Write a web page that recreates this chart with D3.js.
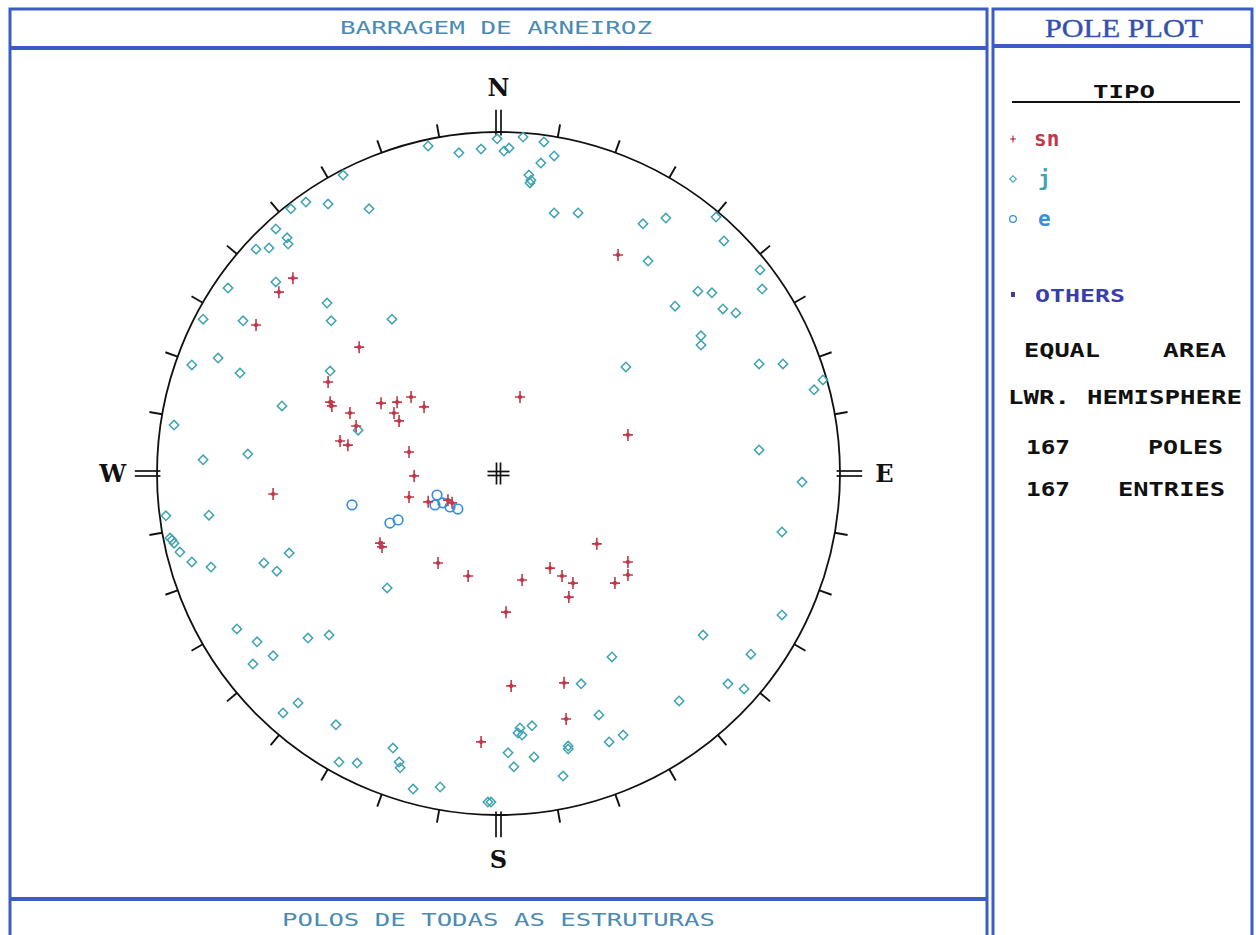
<!DOCTYPE html>
<html>
<head>
<meta charset="utf-8">
<script src="https://cdn.jsdelivr.net/npm/d3@7"></script>
<style>
  body { margin: 0; background: #fff; }
  svg { display: block; }
</style>
</head>
<body>
<script>
let snPoles = [
  [-0.602, 0.572], [-0.643, 0.531], [-0.710, 0.435], [-0.408, 0.370], [0.350, 0.640],
  [-0.499, 0.268], [-0.493, 0.209], [-0.488, 0.198], [-0.435, 0.177], [-0.417, 0.139],
  [-0.344, 0.206], [-0.464, 0.095], [-0.441, 0.083], [-0.660, -0.060], [-0.347, -0.204],
  [-0.341, -0.215], [-0.297, 0.209], [-0.256, 0.224], [-0.218, 0.195], [-0.306, 0.177],
  [-0.291, 0.154], [0.063, 0.224], [-0.262, 0.063], [-0.247, -0.007], [-0.262, -0.069],
  [-0.206, -0.083], [-0.148, -0.078], [-0.136, -0.086], [-0.177, -0.262], [-0.089, -0.300],
  [0.069, -0.312], [0.151, -0.277], [0.186, -0.300], [0.218, -0.321], [0.288, -0.206],
  [0.341, -0.321], [0.379, 0.113], [0.379, -0.259], [0.379, -0.297], [0.206, -0.362],
  [0.022, -0.406], [0.037, -0.622], [0.192, -0.613], [0.198, -0.719], [-0.051, -0.786]
];

let jPoles = [
  [-0.455, 0.874], [-0.564, 0.795], [-0.499, 0.789], [-0.379, 0.775], [-0.608, 0.775],
  [-0.652, 0.716], [-0.619, 0.690], [-0.616, 0.672], [-0.710, 0.657], [-0.672, 0.660],
  [-0.652, 0.561], [-0.792, 0.543], [-0.502, 0.499], [-0.865, 0.452], [-0.748, 0.447],
  [-0.490, 0.447], [-0.821, 0.338], [-0.312, 0.452], [-0.206, 0.959], [-0.116, 0.939],
  [-0.051, 0.950], [-0.004, 0.980], [0.016, 0.944], [0.031, 0.953], [0.072, 0.985],
  [0.133, 0.971], [0.163, 0.930], [0.124, 0.909], [0.089, 0.874], [0.092, 0.851],
  [0.163, 0.763], [0.233, 0.763], [0.423, 0.731], [0.490, 0.748], [0.637, 0.751],
  [0.660, 0.681], [0.438, 0.622], [0.766, 0.596], [0.772, 0.540], [0.584, 0.534],
  [0.625, 0.529], [0.517, 0.490], [0.657, 0.482], [0.695, 0.470], [0.593, 0.403],
  [0.593, 0.376], [0.373, 0.312], [0.763, 0.321], [0.833, 0.321], [0.950, 0.274],
  [0.924, 0.245], [0.763, 0.069], [0.889, -0.025], [0.830, -0.171], [-0.898, 0.318],
  [-0.757, 0.294], [-0.493, 0.300], [-0.634, 0.198], [-0.950, 0.142], [-0.865, 0.040],
  [-0.734, 0.057], [-0.974, -0.124], [-0.848, -0.122], [-0.962, -0.189], [-0.950, -0.204],
  [-0.933, -0.230], [-0.898, -0.259], [-0.842, -0.274], [-0.687, -0.262], [-0.649, -0.286],
  [-0.613, -0.233], [-0.411, 0.127], [-0.326, -0.335], [-0.766, -0.455], [-0.707, -0.493],
  [-0.719, -0.558], [-0.660, -0.534], [-0.558, -0.482], [-0.496, -0.473], [-0.587, -0.672],
  [-0.631, -0.701], [-0.476, -0.736], [-0.467, -0.845], [-0.414, -0.848], [0.332, -0.537],
  [0.242, -0.616], [0.294, -0.707], [0.324, -0.786], [0.098, -0.739], [0.063, -0.745],
  [0.069, -0.766], [0.028, -0.818], [0.104, -0.830], [0.045, -0.859], [0.204, -0.798],
  [0.189, -0.886], [-0.309, -0.804], [-0.291, -0.845], [-0.288, -0.862], [-0.250, -0.924],
  [-0.171, -0.918], [-0.031, -0.962], [0.830, -0.414], [0.599, -0.473], [0.739, -0.529],
  [0.672, -0.616], [0.719, -0.631], [0.529, -0.666], [0.365, -0.766], [0.204, -0.807],
  [0.057, -0.760], [-0.022, -0.962], [0.095, 0.859], [-0.956, -0.195]
];

let ePoles = [
  [-0.429, -0.092], [-0.180, -0.063], [-0.186, -0.092], [-0.163, -0.086],
  [-0.142, -0.098], [-0.119, -0.104], [-0.318, -0.145], [-0.294, -0.136]
];

let cardinals = [
  { az: 0, label: 'N' }, { az: 90, label: 'E' }, { az: 180, label: 'S' }, { az: 270, label: 'W' }
];
let tickAzimuths = d3.range(0, 360, 10);

let titleText = 'BARRAGEM DE ARNEIROZ';
let footerText = 'POLOS DE TODAS AS ESTRUTURAS';
let legendTitle = 'TIPO';
let legendItems = ['sn', 'j', 'e'];
let poleCount = 167;

// layout
let svgWidth = 1256;
let svgHeight = 935;
let cx = 498.5, cy = 473.5, R = 341.5;
let blue = '#3b5cc6';
let colors = { sn: '#c0394a', j: '#3fa3b3', e: '#3a8fdc' };
let monoFont = '"DejaVu Sans Mono"';

let svg = d3.select('body').append('svg')
    .attr('width', svgWidth).attr('height', svgHeight);

// frames
let frames = svg.append('g').attr('fill', 'none').attr('stroke', blue);
frames.append('rect').attr('x', 10).attr('y', 9).attr('width', 977).attr('height', 940).attr('stroke-width', 3);
frames.append('line').attr('x1', 10).attr('x2', 987).attr('y1', 48).attr('y2', 48).attr('stroke-width', 4);
frames.append('line').attr('x1', 10).attr('x2', 987).attr('y1', 899).attr('y2', 899).attr('stroke-width', 4);
frames.append('rect').attr('x', 993).attr('y', 9).attr('width', 259).attr('height', 940).attr('stroke-width', 3);
frames.append('line').attr('x1', 993).attr('x2', 1252).attr('y1', 46).attr('y2', 46).attr('stroke-width', 4);

// headers (wide pixel-style lettering: glyphs are stretched to the measured width)
svg.append('text')
    .attr('x', 340).attr('y', 34)
    .attr('textLength', 312).attr('lengthAdjust', 'spacingAndGlyphs')
    .style('font', `17px ${monoFont}`).attr('fill', '#4a8bb3')
    .text(titleText);

svg.append('text')
    .attr('x', 282).attr('y', 926)
    .attr('textLength', 433).attr('lengthAdjust', 'spacingAndGlyphs')
    .style('font', `17px ${monoFont}`).attr('fill', '#4a8bb3')
    .text(footerText);

svg.append('text')
    .attr('x', 1045).attr('y', 37)
    .attr('textLength', 158).attr('lengthAdjust', 'spacingAndGlyphs')
    .style('font', '25px "Liberation Serif"').attr('fill', '#3551ad')
    .attr('stroke', '#3551ad').attr('stroke-width', 0.4)
    .text('POLE PLOT');

// scales
let x = d3.scaleLinear().domain([-1, 1]).range([cx - R, cx + R]);
let y = d3.scaleLinear().domain([-1, 1]).range([cy + R, cy - R]);

let net = svg.append('g');

net.append('circle')
    .attr('cx', x(0)).attr('cy', y(0)).attr('r', x(1) - x(0))
    .attr('fill', 'none').attr('stroke', '#111').attr('stroke-width', 1.8);

function polar(az, r) {
    let a = az * Math.PI / 180;
    return [x(r * Math.sin(a)), y(r * Math.cos(a))];
}

// 10 degree ticks
net.selectAll('.tick')
    .data(tickAzimuths.filter(a => a % 90 !== 0))
    .enter().append('line')
    .attr('x1', d => polar(d, 1)[0]).attr('y1', d => polar(d, 1)[1])
    .attr('x2', d => polar(d, 1.038)[0]).attr('y2', d => polar(d, 1.038)[1])
    .attr('stroke', '#111').attr('stroke-width', 1.9);

// cardinal double marks + labels
cardinals.forEach(function(c) {
    let a = c.az * Math.PI / 180;
    let px = Math.cos(a) * 2.5, py = Math.sin(a) * 2.5;
    [-1, 1].forEach(function(s) {
        let p1 = polar(c.az, 0.99), p2 = polar(c.az, 1.065);
        net.append('line')
            .attr('x1', p1[0] + s * px).attr('y1', p1[1] + s * py)
            .attr('x2', p2[0] + s * px).attr('y2', p2[1] + s * py)
            .attr('stroke', '#111').attr('stroke-width', 1.7);
    });
    let lp = polar(c.az, 1.13);
    net.append('text')
        .attr('x', lp[0]).attr('y', lp[1])
        .attr('text-anchor', 'middle').attr('dominant-baseline', 'central')
        .style('font', 'bold 24px "DejaVu Serif"').attr('fill', '#111')
        .text(c.label);
});

// centre cross
[-2, 2].forEach(function(o) {
    net.append('line').attr('x1', x(0) - 11).attr('x2', x(0) + 11)
        .attr('y1', y(0) + o).attr('y2', y(0) + o)
        .attr('stroke', '#111').attr('stroke-width', 1.7);
    net.append('line').attr('x1', x(0) + o).attr('x2', x(0) + o)
        .attr('y1', y(0) - 11).attr('y2', y(0) + 11)
        .attr('stroke', '#111').attr('stroke-width', 1.7);
});

// marker shapes
let diamondPath = d3.symbol().type(d3.symbolSquare).size(44)();
let circlePath = d3.symbol().type(d3.symbolCircle).size(72)();
let crossPath = 'M-5,0L5,0M0,-6L0,6M-1.5,-1.5L1.5,1.5M-1.5,1.5L1.5,-1.5';

net.selectAll('.jPole')
    .data(jPoles)
    .enter().append('path')
    .attr('transform', d => `translate(${x(d[0])},${y(d[1])}) rotate(45)`)
    .attr('d', diamondPath)
    .attr('fill', 'none').attr('stroke', colors.j).attr('stroke-width', 1.5);

net.selectAll('.ePole')
    .data(ePoles)
    .enter().append('path')
    .attr('transform', d => `translate(${x(d[0])},${y(d[1])})`)
    .attr('d', circlePath)
    .attr('fill', 'none').attr('stroke', colors.e).attr('stroke-width', 1.7);

net.selectAll('.snPole')
    .data(snPoles)
    .enter().append('path')
    .attr('transform', d => `translate(${x(d[0])},${y(d[1])})`)
    .attr('d', crossPath)
    .attr('fill', 'none').attr('stroke', colors.sn).attr('stroke-width', 1.6);

// legend panel
let legend = svg.append('g');

legend.append('text')
    .attr('x', 1093).attr('y', 98)
    .attr('textLength', 62).attr('lengthAdjust', 'spacingAndGlyphs')
    .style('font', `bold 18px ${monoFont}`).attr('fill', '#111')
    .text(legendTitle);
legend.append('line')
    .attr('x1', 1012).attr('x2', 1240).attr('y1', 102).attr('y2', 102)
    .attr('stroke', '#111').attr('stroke-width', 2);

let legendY = d3.scalePoint().domain(legendItems).range([139, 219]);

legend.append('path')
    .attr('transform', `translate(1013,${legendY('sn')}) scale(0.6)`)
    .attr('d', crossPath).attr('fill', 'none').attr('stroke', colors.sn).attr('stroke-width', 2);
legend.append('path')
    .attr('transform', `translate(1013,${legendY('j')}) rotate(45) scale(0.7)`)
    .attr('d', diamondPath).attr('fill', 'none').attr('stroke', colors.j).attr('stroke-width', 1.6);
legend.append('path')
    .attr('transform', `translate(1013,${legendY('e')}) scale(0.7)`)
    .attr('d', circlePath).attr('fill', 'none').attr('stroke', colors.e).attr('stroke-width', 1.8);

legend.selectAll('.legendText')
    .data(legendItems)
    .enter().append('text')
    .attr('x', d => d === 'sn' ? 1034 : 1038)
    .attr('y', d => legendY(d) + 7)
    .style('font', `bold 21px ${monoFont}`)
    .attr('fill', d => colors[d])
    .text(d => d);

legend.append('rect')
    .attr('x', 1011).attr('y', 292).attr('width', 4).attr('height', 5)
    .attr('fill', '#3a3fa8');
legend.append('text')
    .attr('x', 1035).attr('y', 302)
    .attr('textLength', 90).attr('lengthAdjust', 'spacingAndGlyphs')
    .style('font', `bold 18px ${monoFont}`).attr('fill', '#3a3fa8')
    .text('OTHERS');

let infoRows = [
    { y: 357, parts: [['EQUAL', 1024, 76], ['AREA', 1163, 63]] },
    { y: 404, parts: [['LWR.', 1008, 62], ['HEMISPHERE', 1087, 155]] },
    { y: 454, parts: [[String(poleCount), 1026, 44], ['POLES', 1148, 75]] },
    { y: 496, parts: [[String(poleCount), 1026, 44], ['ENTRIES', 1118, 107]] }
];
infoRows.forEach(function(row) {
    row.parts.forEach(function(p) {
        legend.append('text')
            .attr('x', p[1]).attr('y', row.y)
            .attr('textLength', p[2]).attr('lengthAdjust', 'spacingAndGlyphs')
            .style('font', `bold 19px ${monoFont}`).attr('fill', '#111')
            .text(p[0]);
    });
});
</script>
</body>
</html>
